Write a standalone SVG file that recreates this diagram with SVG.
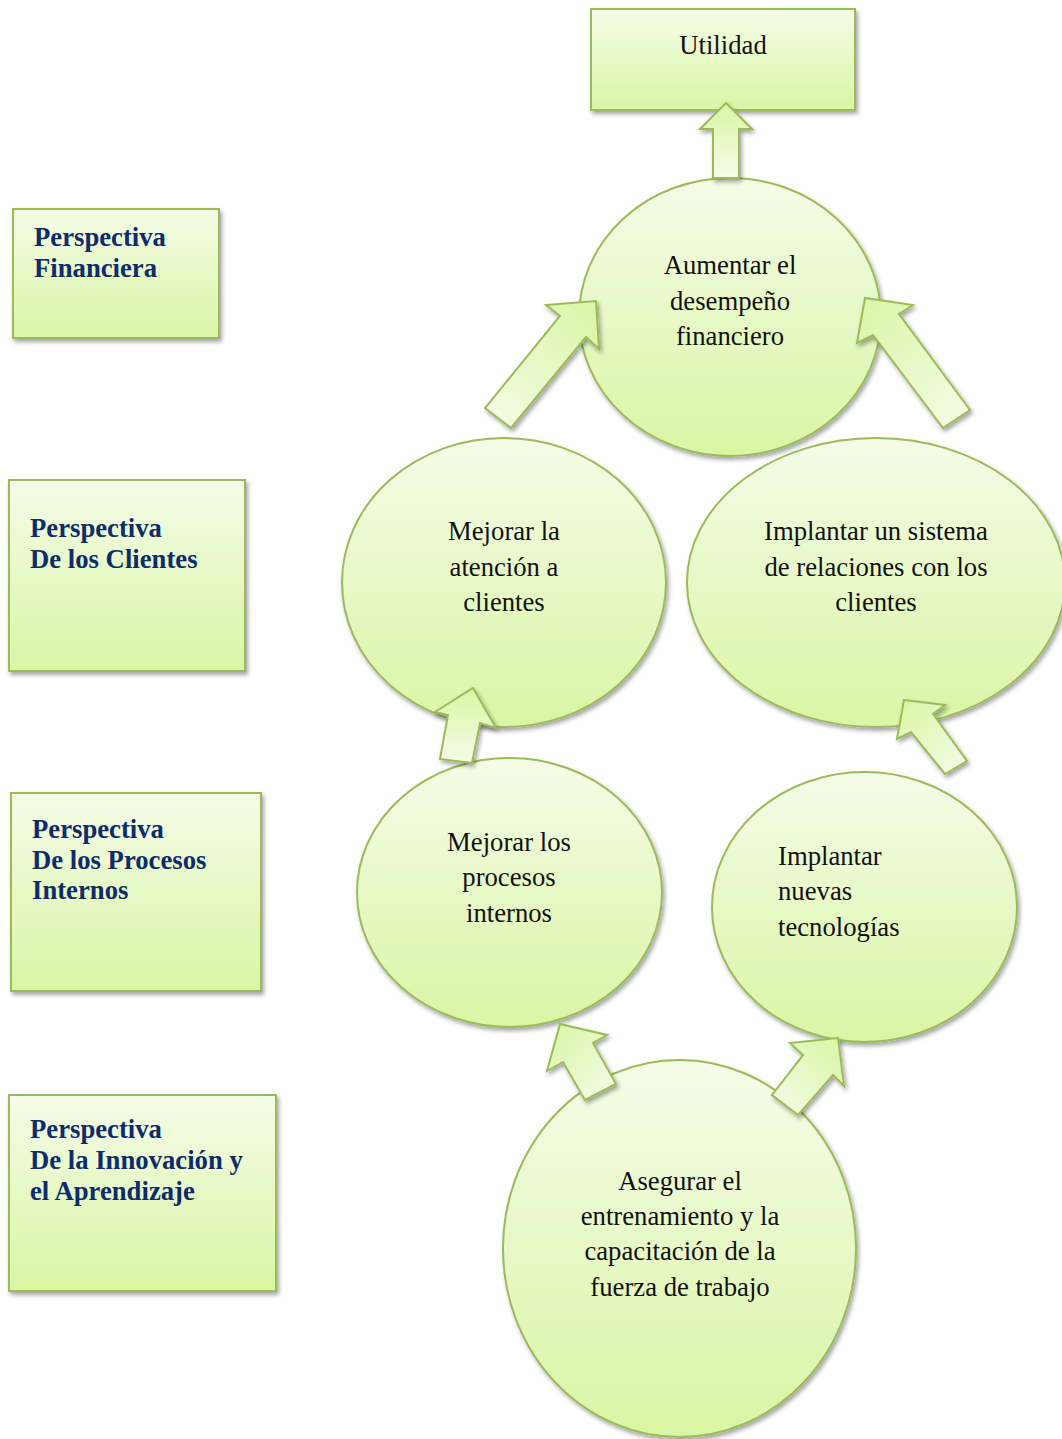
<svg xmlns="http://www.w3.org/2000/svg" width="1062" height="1439" viewBox="0 0 1062 1439">
  <defs>
    <!-- soft green fill used by boxes and ellipses -->
    <linearGradient id="fillV" x1="0" y1="0" x2="0" y2="1">
      <stop offset="0" stop-color="#F4FCE8"/>
      <stop offset="1" stop-color="#DAF5A4"/>
    </linearGradient>
    <!-- arrow fills: darker toward the tip -->
    <linearGradient id="arrUp" x1="0" y1="0" x2="0" y2="1">
      <stop offset="0" stop-color="#DAF5A4"/>
      <stop offset="1" stop-color="#F4FCE8"/>
    </linearGradient>
    <linearGradient id="arrUR" x1="1" y1="0" x2="0" y2="1">
      <stop offset="0" stop-color="#DAF5A4"/>
      <stop offset="1" stop-color="#F4FCE8"/>
    </linearGradient>
    <linearGradient id="arrUL" x1="0" y1="0" x2="1" y2="1">
      <stop offset="0" stop-color="#DAF5A4"/>
      <stop offset="1" stop-color="#F4FCE8"/>
    </linearGradient>
    <filter id="shadow" x="-10%" y="-10%" width="125%" height="125%">
      <feDropShadow dx="2" dy="3" stdDeviation="2.2" flood-color="#000" flood-opacity="0.35"/>
    </filter>
  </defs>
  <style>
    .shape { fill: url(#fillV); stroke: #9BBB59; stroke-width: 2; filter: url(#shadow); }
    .arrow { stroke: #9BBB59; stroke-width: 2; stroke-linejoin: miter; filter: url(#shadow); }
    .lbl { font-family: "Liberation Serif", "Times New Roman", serif; font-size: 26.7px; fill: #111; }
    .mid { text-anchor: middle; }
    .persp { font-family: "Liberation Serif", "Times New Roman", serif; font-size: 26.7px; font-weight: bold; fill: #0E2C6B; }
  </style>

  <rect width="1062" height="1439" fill="#FFFFFF"/>

  <!-- perspective labels on the left -->
  <g id="persp-financiera">
    <rect class="shape" x="13" y="209" width="206" height="129"/>
    <text class="persp" x="34" y="246">Perspectiva</text>
    <text class="persp" x="34" y="277">Financiera</text>
  </g>
  <g id="persp-clientes">
    <rect class="shape" x="9" y="480" width="236" height="191"/>
    <text class="persp" x="30" y="537">Perspectiva</text>
    <text class="persp" x="30" y="568">De los Clientes</text>
  </g>
  <g id="persp-procesos">
    <rect class="shape" x="11" y="793" width="250" height="198"/>
    <text class="persp" x="32" y="838">Perspectiva</text>
    <text class="persp" x="32" y="869">De los Procesos</text>
    <text class="persp" x="32" y="899">Internos</text>
  </g>
  <g id="persp-innovacion">
    <rect class="shape" x="9" y="1095" width="267" height="196"/>
    <text class="persp" x="30" y="1138">Perspectiva</text>
    <text class="persp" x="30" y="1169">De la Innovación y</text>
    <text class="persp" x="30" y="1200">el Aprendizaje</text>
  </g>

  <!-- objective nodes -->
  <g id="utilidad">
    <rect class="shape" x="591" y="9" width="264" height="101"/>
    <text class="lbl mid" x="723" y="54">Utilidad</text>
  </g>
  <g id="desempeno">
    <ellipse class="shape" cx="730" cy="317" rx="151" ry="139"/>
    <text class="lbl mid" x="730" y="274">Aumentar el</text>
    <text class="lbl mid" x="730" y="310">desempeño</text>
    <text class="lbl mid" x="730" y="345">financiero</text>
  </g>
  <g id="atencion">
    <ellipse class="shape" cx="504" cy="582.5" rx="162" ry="144.5"/>
    <text class="lbl mid" x="504" y="540">Mejorar la</text>
    <text class="lbl mid" x="504" y="576">atención a</text>
    <text class="lbl mid" x="504" y="611">clientes</text>
  </g>
  <g id="relaciones">
    <ellipse class="shape" cx="876" cy="582.5" rx="189" ry="144.5"/>
    <text class="lbl mid" x="876" y="540">Implantar un sistema</text>
    <text class="lbl mid" x="876" y="576">de relaciones con los</text>
    <text class="lbl mid" x="876" y="611">clientes</text>
  </g>
  <g id="procesos">
    <ellipse class="shape" cx="509.5" cy="892.5" rx="152.5" ry="134.5"/>
    <text class="lbl mid" x="509" y="851">Mejorar los</text>
    <text class="lbl mid" x="509" y="886">procesos</text>
    <text class="lbl mid" x="509" y="922">internos</text>
  </g>
  <g id="tecnologias">
    <ellipse class="shape" cx="864.5" cy="907" rx="152.5" ry="135"/>
    <text class="lbl" x="778" y="865">Implantar</text>
    <text class="lbl" x="778" y="900">nuevas</text>
    <text class="lbl" x="778" y="936">tecnologías</text>
  </g>
  <g id="capacitacion">
    <ellipse class="shape" cx="679.5" cy="1248.5" rx="176.5" ry="188.5"/>
    <text class="lbl mid" x="680" y="1190">Asegurar el</text>
    <text class="lbl mid" x="680" y="1225">entrenamiento y la</text>
    <text class="lbl mid" x="680" y="1260">capacitación de la</text>
    <text class="lbl mid" x="680" y="1296">fuerza de trabajo</text>
  </g>

  <!-- block arrows between objectives -->
  <g id="connectors">
    <polygon class="arrow" fill="url(#arrUp)" points="726,103 752,129 739,129 739,178 713,178 713,129 700,129"/>
    <polygon class="arrow" fill="url(#arrUR)" points="596,301 599,349 586,337 511,428 485,408 560,316 546,305"/>
    <polygon class="arrow" fill="url(#arrUL)" points="865,298 913,305 899,314 970,410 943,428 873,335 857,343"/>
    <polygon class="arrow" fill="url(#arrUp)" points="473,688 496,728 480,723 472,763 440,759 448,715 435,712"/>
    <polygon class="arrow" fill="url(#arrUL)" points="904,700 945,705 933,714 967,761 945,774 911,732 897,739"/>
    <polygon class="arrow" fill="url(#arrUL)" points="560,1024 607,1035 593,1043 616,1084 585,1100 563,1062 547,1071"/>
    <polygon class="arrow" fill="url(#arrUR)" points="838,1038 844,1086 833,1075 798,1115 772,1095 803,1055 790,1043"/>
  </g>
</svg>
